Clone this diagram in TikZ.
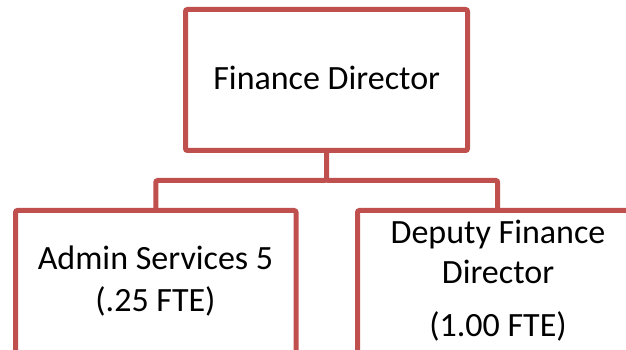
\documentclass[tikz,border=0pt]{standalone}
\usepackage{fontspec}
\setmainfont{Carlito}
\definecolor{boxred}{RGB}{192,80,77}
\begin{document}
\begin{tikzpicture}[x=1pt,y=1pt,
  orgbox/.style={draw=boxred, line width=5pt, rectangle, rounded corners=2pt, inner sep=0pt, fill=white},
  conn/.style={draw=boxred, line width=5pt, rounded corners=2pt},
  lbl/.style={anchor=base, inner sep=0pt, font=\fontsize{34}{40}\selectfont}]
\useasboundingbox (0,0) rectangle (626,350);
\node[orgbox, minimum width=282pt, minimum height=141pt] (top) at (326.5,270) {};
\node[orgbox, minimum width=280.5pt, minimum height=200pt] (left) at (155.75,39.5) {};
\node[orgbox, minimum width=280.4pt, minimum height=200pt] (right) at (497.7,39.5) {};
\coordinate (mid) at (326.5,169.5);
\draw[conn] (top.south) -- (mid) -| (left.north);
\draw[conn] (mid) -| (right.north);
\node[lbl] (t1) at (326.7,260) {Finance Director};
\node[lbl] (l1) at (155.5,80) {Admin Services 5};
\node[lbl] (l2) at (155.5,38) {(.25 FTE)};
\node[lbl] (r1) at (498,106) {Deputy Finance};
\node[lbl] (r2) at (498,66.7) {Director};
\node[lbl] (r3) at (498,13.3) {(1.00 FTE)};
\end{tikzpicture}
\end{document}
